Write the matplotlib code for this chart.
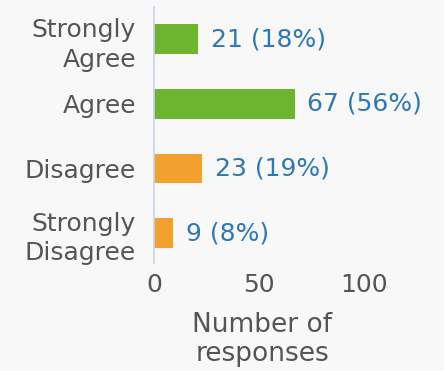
import matplotlib.pyplot as plt

# survey responses
categories = ["Strongly\nAgree", "Agree", "Disagree", "Strongly\nDisagree"]
counts = [21, 67, 23, 9]
percents = [18, 56, 19, 8]
colors = ["#6db52f", "#6db52f", "#f2a02e", "#f2a02e"]

bg = "#f8f8f8"
grey = "#555555"
blue = "#2e78b7"

plt.rcParams["font.family"] = ["DejaVu Sans"]

fig = plt.figure(figsize=(4.44, 3.71), dpi=100, facecolor=bg)
ax = fig.add_axes([154 / 444, 108 / 371, 273 / 444, 256 / 371], facecolor=bg)

ypos = range(len(categories))
ax.barh(ypos, counts, height=0.46, color=colors)
for y, c, p in zip(ypos, counts, percents):
    ax.text(c + 6, y, f"{c} ({p}%)", va="center", ha="left",
            color=blue, fontsize=18)

ax.set_xlim(0, 130)
ax.set_ylim(3.46, -0.5)
ax.set_yticks(list(ypos))
ax.set_yticklabels(categories, fontsize=18, color=grey, linespacing=1.3,
                   ha="right")
ax.set_xticks([0, 50, 100])
ax.tick_params(axis="x", length=0, labelsize=18, labelcolor=grey, pad=7)
ax.tick_params(axis="y", length=0, pad=13)

for s in ["top", "right", "bottom"]:
    ax.spines[s].set_visible(False)
ax.spines["left"].set_color("#c9d3e6")
ax.spines["left"].set_linewidth(1.2)

ax.set_xlabel("Number of\nresponses", fontsize=19, color=grey, linespacing=1.15)
ax.xaxis.set_label_coords((262 - 154) / 273, -0.19)

fig.savefig("out.png", dpi=100, facecolor=bg)
